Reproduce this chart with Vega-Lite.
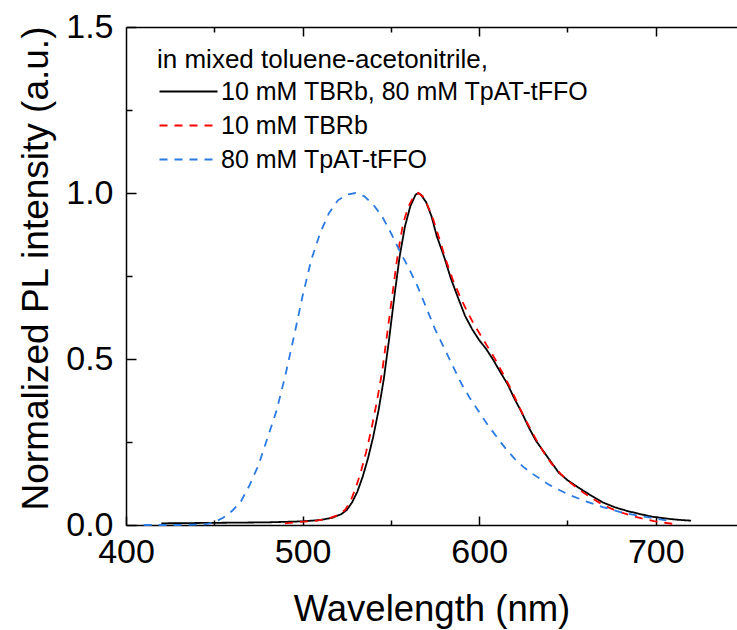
{
  "$schema": "https://vega.github.io/schema/vega-lite/v6.json",
  "width": 611,
  "height": 498,
  "autosize": {"type": "none"},
  "padding": {"left": 126, "top": 27, "right": 0, "bottom": 105},
  "config": {
    "font": "Liberation Sans",
    "view": {"stroke": null},
    "axis": {"grid": false, "domainColor": "black", "domainWidth": 1.5, "tickColor": "black", "tickWidth": 1.5, "labelColor": "black", "titleColor": "black", "titleFontWeight": "normal", "labelFlush": false, "labelOverlap": false}
  },
  "data": {"values": [
    {"s": "10 mM TBRb, 80 mM TpAT-tFFO", "x": 420, "y": 0.005},
    {"s": "10 mM TBRb, 80 mM TpAT-tFFO", "x": 440, "y": 0.006},
    {"s": "10 mM TBRb, 80 mM TpAT-tFFO", "x": 460, "y": 0.007},
    {"s": "10 mM TBRb, 80 mM TpAT-tFFO", "x": 480, "y": 0.008},
    {"s": "10 mM TBRb, 80 mM TpAT-tFFO", "x": 500, "y": 0.011},
    {"s": "10 mM TBRb, 80 mM TpAT-tFFO", "x": 510, "y": 0.015},
    {"s": "10 mM TBRb, 80 mM TpAT-tFFO", "x": 517, "y": 0.022},
    {"s": "10 mM TBRb, 80 mM TpAT-tFFO", "x": 522, "y": 0.033},
    {"s": "10 mM TBRb, 80 mM TpAT-tFFO", "x": 525, "y": 0.045},
    {"s": "10 mM TBRb, 80 mM TpAT-tFFO", "x": 528, "y": 0.068},
    {"s": "10 mM TBRb, 80 mM TpAT-tFFO", "x": 531, "y": 0.1},
    {"s": "10 mM TBRb, 80 mM TpAT-tFFO", "x": 534, "y": 0.145},
    {"s": "10 mM TBRb, 80 mM TpAT-tFFO", "x": 537, "y": 0.2},
    {"s": "10 mM TBRb, 80 mM TpAT-tFFO", "x": 540, "y": 0.266},
    {"s": "10 mM TBRb, 80 mM TpAT-tFFO", "x": 543, "y": 0.345},
    {"s": "10 mM TBRb, 80 mM TpAT-tFFO", "x": 546, "y": 0.44},
    {"s": "10 mM TBRb, 80 mM TpAT-tFFO", "x": 549, "y": 0.56},
    {"s": "10 mM TBRb, 80 mM TpAT-tFFO", "x": 552, "y": 0.69},
    {"s": "10 mM TBRb, 80 mM TpAT-tFFO", "x": 555, "y": 0.81},
    {"s": "10 mM TBRb, 80 mM TpAT-tFFO", "x": 558, "y": 0.9},
    {"s": "10 mM TBRb, 80 mM TpAT-tFFO", "x": 561, "y": 0.96},
    {"s": "10 mM TBRb, 80 mM TpAT-tFFO", "x": 564, "y": 0.995},
    {"s": "10 mM TBRb, 80 mM TpAT-tFFO", "x": 565.5, "y": 1.0},
    {"s": "10 mM TBRb, 80 mM TpAT-tFFO", "x": 567, "y": 0.995},
    {"s": "10 mM TBRb, 80 mM TpAT-tFFO", "x": 570, "y": 0.972},
    {"s": "10 mM TBRb, 80 mM TpAT-tFFO", "x": 573, "y": 0.93},
    {"s": "10 mM TBRb, 80 mM TpAT-tFFO", "x": 576, "y": 0.87},
    {"s": "10 mM TBRb, 80 mM TpAT-tFFO", "x": 580, "y": 0.81},
    {"s": "10 mM TBRb, 80 mM TpAT-tFFO", "x": 584, "y": 0.742},
    {"s": "10 mM TBRb, 80 mM TpAT-tFFO", "x": 588, "y": 0.685},
    {"s": "10 mM TBRb, 80 mM TpAT-tFFO", "x": 592, "y": 0.63},
    {"s": "10 mM TBRb, 80 mM TpAT-tFFO", "x": 596, "y": 0.59},
    {"s": "10 mM TBRb, 80 mM TpAT-tFFO", "x": 600, "y": 0.557},
    {"s": "10 mM TBRb, 80 mM TpAT-tFFO", "x": 604, "y": 0.53},
    {"s": "10 mM TBRb, 80 mM TpAT-tFFO", "x": 608, "y": 0.497},
    {"s": "10 mM TBRb, 80 mM TpAT-tFFO", "x": 612, "y": 0.46},
    {"s": "10 mM TBRb, 80 mM TpAT-tFFO", "x": 616, "y": 0.425},
    {"s": "10 mM TBRb, 80 mM TpAT-tFFO", "x": 620, "y": 0.38},
    {"s": "10 mM TBRb, 80 mM TpAT-tFFO", "x": 624, "y": 0.34},
    {"s": "10 mM TBRb, 80 mM TpAT-tFFO", "x": 628, "y": 0.295},
    {"s": "10 mM TBRb, 80 mM TpAT-tFFO", "x": 632, "y": 0.255},
    {"s": "10 mM TBRb, 80 mM TpAT-tFFO", "x": 636, "y": 0.225},
    {"s": "10 mM TBRb, 80 mM TpAT-tFFO", "x": 640, "y": 0.195},
    {"s": "10 mM TBRb, 80 mM TpAT-tFFO", "x": 645, "y": 0.158},
    {"s": "10 mM TBRb, 80 mM TpAT-tFFO", "x": 650, "y": 0.135},
    {"s": "10 mM TBRb, 80 mM TpAT-tFFO", "x": 657, "y": 0.11},
    {"s": "10 mM TBRb, 80 mM TpAT-tFFO", "x": 663, "y": 0.09},
    {"s": "10 mM TBRb, 80 mM TpAT-tFFO", "x": 670, "y": 0.068},
    {"s": "10 mM TBRb, 80 mM TpAT-tFFO", "x": 677, "y": 0.053},
    {"s": "10 mM TBRb, 80 mM TpAT-tFFO", "x": 684, "y": 0.042},
    {"s": "10 mM TBRb, 80 mM TpAT-tFFO", "x": 691, "y": 0.033},
    {"s": "10 mM TBRb, 80 mM TpAT-tFFO", "x": 698, "y": 0.025},
    {"s": "10 mM TBRb, 80 mM TpAT-tFFO", "x": 705, "y": 0.02},
    {"s": "10 mM TBRb, 80 mM TpAT-tFFO", "x": 712, "y": 0.016},
    {"s": "10 mM TBRb, 80 mM TpAT-tFFO", "x": 720, "y": 0.013},
    {"s": "10 mM TBRb", "x": 490, "y": 0.005},
    {"s": "10 mM TBRb", "x": 500, "y": 0.01},
    {"s": "10 mM TBRb", "x": 508, "y": 0.013},
    {"s": "10 mM TBRb", "x": 515, "y": 0.02},
    {"s": "10 mM TBRb", "x": 520, "y": 0.03},
    {"s": "10 mM TBRb", "x": 524, "y": 0.045},
    {"s": "10 mM TBRb", "x": 527, "y": 0.07},
    {"s": "10 mM TBRb", "x": 530, "y": 0.11},
    {"s": "10 mM TBRb", "x": 533, "y": 0.16},
    {"s": "10 mM TBRb", "x": 536, "y": 0.22},
    {"s": "10 mM TBRb", "x": 539, "y": 0.29},
    {"s": "10 mM TBRb", "x": 542, "y": 0.37},
    {"s": "10 mM TBRb", "x": 545, "y": 0.46},
    {"s": "10 mM TBRb", "x": 548, "y": 0.58},
    {"s": "10 mM TBRb", "x": 551, "y": 0.7},
    {"s": "10 mM TBRb", "x": 554, "y": 0.82},
    {"s": "10 mM TBRb", "x": 557, "y": 0.91},
    {"s": "10 mM TBRb", "x": 560, "y": 0.96},
    {"s": "10 mM TBRb", "x": 563, "y": 0.99},
    {"s": "10 mM TBRb", "x": 565.5, "y": 1.0},
    {"s": "10 mM TBRb", "x": 568, "y": 0.99},
    {"s": "10 mM TBRb", "x": 571, "y": 0.96},
    {"s": "10 mM TBRb", "x": 574, "y": 0.92},
    {"s": "10 mM TBRb", "x": 577, "y": 0.87},
    {"s": "10 mM TBRb", "x": 581, "y": 0.8},
    {"s": "10 mM TBRb", "x": 585, "y": 0.74},
    {"s": "10 mM TBRb", "x": 589, "y": 0.69},
    {"s": "10 mM TBRb", "x": 593, "y": 0.645},
    {"s": "10 mM TBRb", "x": 597, "y": 0.605},
    {"s": "10 mM TBRb", "x": 601, "y": 0.57},
    {"s": "10 mM TBRb", "x": 605, "y": 0.535},
    {"s": "10 mM TBRb", "x": 609, "y": 0.5},
    {"s": "10 mM TBRb", "x": 613, "y": 0.46},
    {"s": "10 mM TBRb", "x": 617, "y": 0.42},
    {"s": "10 mM TBRb", "x": 621, "y": 0.375},
    {"s": "10 mM TBRb", "x": 625, "y": 0.33},
    {"s": "10 mM TBRb", "x": 629, "y": 0.29},
    {"s": "10 mM TBRb", "x": 633, "y": 0.25},
    {"s": "10 mM TBRb", "x": 637, "y": 0.215},
    {"s": "10 mM TBRb", "x": 641, "y": 0.185},
    {"s": "10 mM TBRb", "x": 646, "y": 0.155},
    {"s": "10 mM TBRb", "x": 651, "y": 0.13},
    {"s": "10 mM TBRb", "x": 657, "y": 0.105},
    {"s": "10 mM TBRb", "x": 664, "y": 0.08},
    {"s": "10 mM TBRb", "x": 671, "y": 0.058},
    {"s": "10 mM TBRb", "x": 678, "y": 0.042},
    {"s": "10 mM TBRb", "x": 685, "y": 0.03},
    {"s": "10 mM TBRb", "x": 692, "y": 0.02},
    {"s": "10 mM TBRb", "x": 699, "y": 0.012},
    {"s": "10 mM TBRb", "x": 706, "y": 0.006},
    {"s": "10 mM TBRb", "x": 712, "y": 0.002},
    {"s": "80 mM TpAT-tFFO", "x": 410, "y": 0.0},
    {"s": "80 mM TpAT-tFFO", "x": 430, "y": 0.0},
    {"s": "80 mM TpAT-tFFO", "x": 445, "y": 0.002},
    {"s": "80 mM TpAT-tFFO", "x": 450, "y": 0.008},
    {"s": "80 mM TpAT-tFFO", "x": 455, "y": 0.022},
    {"s": "80 mM TpAT-tFFO", "x": 460, "y": 0.042},
    {"s": "80 mM TpAT-tFFO", "x": 465, "y": 0.07},
    {"s": "80 mM TpAT-tFFO", "x": 470, "y": 0.12},
    {"s": "80 mM TpAT-tFFO", "x": 475, "y": 0.18},
    {"s": "80 mM TpAT-tFFO", "x": 480, "y": 0.26},
    {"s": "80 mM TpAT-tFFO", "x": 485, "y": 0.34},
    {"s": "80 mM TpAT-tFFO", "x": 490, "y": 0.445},
    {"s": "80 mM TpAT-tFFO", "x": 495, "y": 0.565},
    {"s": "80 mM TpAT-tFFO", "x": 500, "y": 0.69},
    {"s": "80 mM TpAT-tFFO", "x": 505, "y": 0.8},
    {"s": "80 mM TpAT-tFFO", "x": 510, "y": 0.88},
    {"s": "80 mM TpAT-tFFO", "x": 515, "y": 0.94},
    {"s": "80 mM TpAT-tFFO", "x": 520, "y": 0.978},
    {"s": "80 mM TpAT-tFFO", "x": 525, "y": 0.995},
    {"s": "80 mM TpAT-tFFO", "x": 530, "y": 1.0},
    {"s": "80 mM TpAT-tFFO", "x": 535, "y": 0.99},
    {"s": "80 mM TpAT-tFFO", "x": 540, "y": 0.965},
    {"s": "80 mM TpAT-tFFO", "x": 545, "y": 0.93},
    {"s": "80 mM TpAT-tFFO", "x": 550, "y": 0.88},
    {"s": "80 mM TpAT-tFFO", "x": 555, "y": 0.825},
    {"s": "80 mM TpAT-tFFO", "x": 560, "y": 0.775},
    {"s": "80 mM TpAT-tFFO", "x": 565, "y": 0.72},
    {"s": "80 mM TpAT-tFFO", "x": 570, "y": 0.655},
    {"s": "80 mM TpAT-tFFO", "x": 575, "y": 0.59},
    {"s": "80 mM TpAT-tFFO", "x": 580, "y": 0.535},
    {"s": "80 mM TpAT-tFFO", "x": 585, "y": 0.48},
    {"s": "80 mM TpAT-tFFO", "x": 590, "y": 0.425},
    {"s": "80 mM TpAT-tFFO", "x": 595, "y": 0.38},
    {"s": "80 mM TpAT-tFFO", "x": 600, "y": 0.34},
    {"s": "80 mM TpAT-tFFO", "x": 605, "y": 0.3},
    {"s": "80 mM TpAT-tFFO", "x": 610, "y": 0.265},
    {"s": "80 mM TpAT-tFFO", "x": 615, "y": 0.23},
    {"s": "80 mM TpAT-tFFO", "x": 620, "y": 0.2},
    {"s": "80 mM TpAT-tFFO", "x": 625, "y": 0.175},
    {"s": "80 mM TpAT-tFFO", "x": 630, "y": 0.155},
    {"s": "80 mM TpAT-tFFO", "x": 635, "y": 0.137},
    {"s": "80 mM TpAT-tFFO", "x": 640, "y": 0.12},
    {"s": "80 mM TpAT-tFFO", "x": 650, "y": 0.093},
    {"s": "80 mM TpAT-tFFO", "x": 660, "y": 0.072},
    {"s": "80 mM TpAT-tFFO", "x": 670, "y": 0.054},
    {"s": "80 mM TpAT-tFFO", "x": 680, "y": 0.039},
    {"s": "80 mM TpAT-tFFO", "x": 690, "y": 0.028},
    {"s": "80 mM TpAT-tFFO", "x": 700, "y": 0.019},
    {"s": "80 mM TpAT-tFFO", "x": 710, "y": 0.01}
  ]},
  "layer": [
    {
      "mark": {"type": "line", "strokeWidth": 1.8},
      "encoding": {
        "x": {"field": "x", "type": "quantitative", "scale": {"domain": [400, 746], "nice": false, "zero": false},
          "axis": {"orient": "bottom", "values": [400, 450, 500, 550, 600, 650, 700], "title": "Wavelength (nm)", "titleFontSize": 36.5, "titleBaseline": "alphabetic", "titleY": 95,
            "labelFontSize": 34, "labelPadding": 19, "labelExpr": "datum.value % 100 === 0 ? datum.label : ''",
            "tickSize": {"condition": {"test": "datum.value % 100 === 0", "value": -9}, "value": -5}}},
        "y": {"field": "y", "type": "quantitative", "scale": {"domain": [0, 1.5], "nice": false},
          "axis": {"orient": "left", "values": [0, 0.25, 0.5, 0.75, 1, 1.25, 1.5], "title": "Normalized PL intensity (a.u.)", "titleFontSize": 37, "titleBaseline": "alphabetic", "titleX": -79, "titleY": 241,
            "labelFontSize": 34, "labelPadding": 23, "labelExpr": "(datum.value * 4) % 2 === 0 ? format(datum.value, '.1f') : ''",
            "tickSize": {"condition": {"test": "(datum.value * 4) % 2 === 0", "value": -10}, "value": -6}}},
        "color": {"field": "s", "type": "nominal", "title": "in mixed toluene-acetonitrile,",
          "scale": {"domain": ["10 mM TBRb, 80 mM TpAT-tFFO", "10 mM TBRb", "80 mM TpAT-tFFO"], "range": ["#000000", "#ff0000", "#2a7ae2"]},
          "legend": {"orient": "none", "legendX": 31, "legendY": 20, "padding": 0,
            "titleFontSize": 26, "titleFontWeight": "normal", "titleColor": "black", "titlePadding": 6, "titleLimit": 600,
            "labelFontSize": 25, "labelColor": "black", "labelLimit": 600, "labelOffset": 39,
            "symbolType": "M-1,0H4.8", "symbolSize": 400, "symbolStrokeWidth": 2, "rowPadding": 8}},
        "strokeDash": {"field": "s", "type": "nominal", "title": "in mixed toluene-acetonitrile,",
          "scale": {"domain": ["10 mM TBRb, 80 mM TpAT-tFFO", "10 mM TBRb", "80 mM TpAT-tFFO"], "range": [[1, 0], [8, 7], [8, 7]]}}
      }
    },
    {
      "mark": {"type": "line", "opacity": 0},
      "encoding": {
        "x": {"field": "x", "type": "quantitative",
          "axis": {"orient": "top", "values": [450, 500, 550, 600, 650, 700], "title": null, "labels": false,
            "tickSize": {"condition": {"test": "datum.value % 100 === 0", "value": -9}, "value": -5}}},
        "y": {"field": "y", "type": "quantitative", "axis": null},
        "detail": {"field": "s", "type": "nominal"}
      }
    }
  ],
  "resolve": {"axis": {"x": "independent", "y": "independent"}}
}
